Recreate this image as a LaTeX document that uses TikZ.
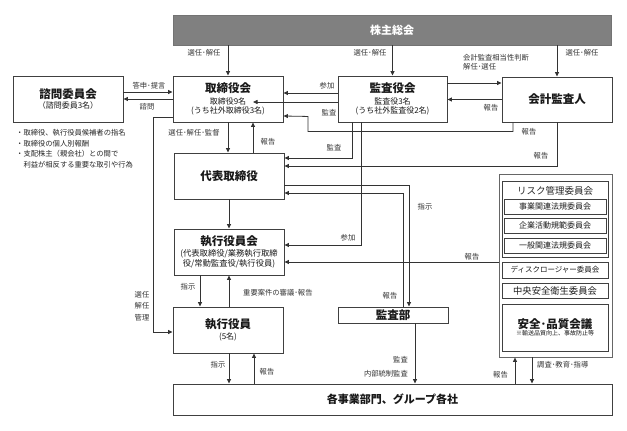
\documentclass[tikz,border=0pt]{standalone}
\usepackage{fontspec}
\setmainfont{Noto Sans CJK JP}
\usetikzlibrary{arrows.meta,calc}
\newcommand\mytitle{\fontsize{11.5}{14}\selectfont\bfseries}
\newcommand\mysub{\fontsize{8}{9.5}\selectfont}
\begin{document}
\begin{tikzpicture}[x=1pt,y=-1pt,
  box/.style={draw=black!75, line width=0.9pt, fill=white, inner sep=0pt, align=center, text=black!90, font=\mysub},
  gbox/.style={draw=black!60, line width=0.9pt, fill=white, inner sep=0pt},
  lbl/.style={font=\fontsize{7.3}{8.5}\selectfont, text=black!80, inner sep=0pt, align=center},
  arr/.style={draw=black!80, line width=0.8pt, -{Triangle[length=4.5pt,width=4pt]}},
]
\useasboundingbox[fill=white] (0,0) rectangle (627,431);

% ---- boxes
\node[draw=black!55, fill=black!50, minimum width=438pt, minimum height=30pt, inner sep=0pt,
      text=white, font=\fontsize{11}{13}\selectfont\bfseries] (sh) at (392,30) {株主総会};
\node[box, minimum width=110pt, minimum height=46pt] (shimon) at (68,99)
  {{\mytitle 諮問委員会}\\[1pt]（諮問委員3名）};
\node[box, minimum width=110pt, minimum height=46pt] (tori) at (228,99)
  {{\mytitle 取締役会}\\[2.5pt]取締役9名\\(うち社外取締役3名)};
\node[box, minimum width=109pt, minimum height=46pt] (kansa) at (392.5,99)
  {{\mytitle 監査役会}\\[2.5pt]監査役3名\\(うち社外監査役2名)};
\node[box, minimum width=110pt, minimum height=45pt] (kaikei) at (557,99.5)
  {{\mytitle 会計監査人}};
\node[box, minimum width=110pt, minimum height=46pt] (daihyo) at (229,176)
  {{\mytitle 代表取締役}};
\node[box, minimum width=110pt, minimum height=46pt, font=\fontsize{8.3}{10}\selectfont] (shikkokai) at (229,252)
  {{\mytitle 執行役員会}\\[1.5pt](代表取締役/業務執行取締\\役/常勤監査役/執行役員)};
\node[box, minimum width=110pt, minimum height=46pt] (shikko) at (228,330)
  {{\mytitle 執行役員}\\[1.5pt](5名)};
\node[box, minimum width=110pt, minimum height=16pt] (kansabu) at (393,315)
  {{\mytitle 監査部}};
\node[box, minimum width=439pt, minimum height=31pt] (jigyo) at (392.5,399.5)
  {{\fontsize{11}{13}\selectfont\bfseries 各事業部門、グループ各社}};

% ---- committee group
\node[gbox, minimum width=113pt, minimum height=183pt] (grp) at (555.5,265.5) {};
\node[box, minimum width=106pt, minimum height=76pt] (risk) at (555,219) {};
\node[inner sep=0pt, font=\fontsize{9.5}{11}\selectfont, text=black!85] (risktitle) at (555,190.5) {リスク管理委員会};
\node[box, minimum width=102pt, minimum height=15pt, font=\fontsize{8}{9}\selectfont] (r1) at (555,206.5) {事業関連法規委員会};
\node[box, minimum width=102pt, minimum height=15pt, font=\fontsize{8}{9}\selectfont] (r2) at (555,225.5) {企業活動規範委員会};
\node[box, minimum width=102pt, minimum height=15pt, font=\fontsize{8}{9}\selectfont] (r3) at (555,245.5) {一般関連法規委員会};
\node[box, minimum width=106pt, minimum height=16pt, font=\fontsize{7.5}{9}\selectfont] (disc) at (555,270) {ディスクロージャー委員会};
\node[box, minimum width=106pt, minimum height=15pt, font=\fontsize{9.3}{11}\selectfont] (chuo) at (555,290.5) {中央安全衛生委員会};
\node[box, minimum width=106pt, minimum height=47pt, font=\fontsize{6}{7}\selectfont] (anzen) at (555,327.5)
  {{\fontsize{11.5}{13}\selectfont\bfseries 安全･品質会議}\\[0pt]※輸送品質向上、事故防止等};

% ---- bullet list
\node[anchor=north west, inner sep=0pt, align=left, font=\fontsize{7.3}{10.7}\selectfont, text=black!85] (notes) at (16,129)
  {・取締役、執行役員候補者の指名\\・取締役の個人別報酬\\・支配株主（親会社）との間で\\　利益が相反する重要な取引や行為};

% ---- connectors
\draw[arr] (tori.north |- sh.south) -- (tori.north);
\draw[arr] (kansa.north |- sh.south) -- (kansa.north);
\draw[arr] (kaikei.north |- sh.south) -- (kaikei.north);

\draw[arr] ([yshift=7pt]shimon.east) -- ([yshift=7pt]tori.west);
\draw[arr] (tori.west) -- (shimon.east);

\draw[arr] ([yshift=6pt]kansa.west) -- ([yshift=6pt]tori.east);
\draw[arr] ([yshift=-3pt]kansa.west) -- ([xshift=25pt,yshift=-3pt]tori.center);
\draw[arr] ([xshift=-44pt]kaikei.south) -- ++(0,9) -- ++(-205,0) -- ++(0,-15) -- ([yshift=-17pt]tori.east);

\draw[arr] ([yshift=16pt]kansa.east) -- ([yshift=16.5pt]kaikei.west);
\draw[arr] (kaikei.west) -- (kaikei.west -| kansa.east);

\draw[arr] (kaikei.south) |- ([yshift=10pt]daihyo.east);
\draw[arr] ([xshift=-40.5pt]kansa.south) |- ([yshift=18pt]daihyo.east);
\draw[arr] ([xshift=-31.5pt]kansa.south) |- ([yshift=7pt]shikkokai.east);
\draw[arr] ([yshift=-9pt]daihyo.east) -| ([xshift=16pt]kansabu.north);
\draw[arr] ([xshift=10pt]kansabu.north) |- ([yshift=-17pt]daihyo.east);
\draw[arr] ([yshift=-10pt]shikkokai.east -| grp.west) -- ([yshift=-10pt]shikkokai.east);

\draw[arr] (tori.south) -- (tori.south |- daihyo.north);
\draw[arr] ([xshift=25pt]tori.south |- daihyo.north) -- ([xshift=25pt]tori.south);
\draw[arr] (daihyo.south) -- (shikkokai.north);
\draw[arr] ([xshift=-29pt]shikkokai.south) -- ([xshift=-29pt]shikkokai.south |- shikko.north);
\draw[arr] ([xshift=1pt]shikko.north) -- ([xshift=1pt]shikko.north |- shikkokai.south);
\draw[arr] ([yshift=-18pt]tori.west) -- ++(-19,0) |- ([yshift=-2pt]shikko.west);

\draw[arr] ([xshift=1pt]shikko.south) -- ([xshift=1pt]shikko.south |- jigyo.north);
\draw[arr] ([xshift=26pt]shikko.south |- jigyo.north) -- ([xshift=26pt]shikko.south);
\draw[arr] ([xshift=22pt]kansabu.south) -- ([xshift=22pt]kansabu.south |- jigyo.north);
\draw[arr] ([xshift=-40.5pt]grp.south |- jigyo.north) -- ([xshift=-40.5pt]grp.south);
\draw[arr] ([xshift=-23.5pt]grp.south) -- ([xshift=-23.5pt]grp.south |- jigyo.north);

% ---- labels
\node[lbl] (l1) at (204,53) {選任･解任};
\node[lbl] (l2) at (370,53) {選任･解任};
\node[lbl] (l3) at (582,53) {選任･解任};
\node[lbl, anchor=west, align=left] (l4) at (463,62) {会計監査相当性判断\\解任･選任};
\node[lbl] (l5) at (149,86) {答申･提言};
\node[lbl] (l6) at (147,107) {諮問};
\node[lbl] (l7) at (327,86) {参加};
\node[lbl] (l8) at (329,113) {監査};
\node[lbl] (l9) at (491,108) {報告};
\node[lbl] (l10) at (529,132) {報告};
\node[lbl] (l11) at (541,156) {報告};
\node[lbl] (l12) at (334,148) {監査};
\node[lbl] (l13) at (194,133) {選任･解任･監督};
\node[lbl] (l14) at (268,142) {報告};
\node[lbl] (l15) at (425,207) {指示};
\node[lbl] (l16) at (348,238) {参加};
\node[lbl] (l17) at (472,257) {報告};
\node[lbl] (l18) at (188,287) {指示};
\node[lbl, anchor=west] (l19) at (243,293) {重要案件の審議･報告};
\node[lbl] (l20) at (390,296) {報告};
\node[lbl, font=\fontsize{7.3}{11.5}\selectfont] (l21) at (142,306) {選任\\解任\\管理};
\node[lbl] (l22) at (218,365) {指示};
\node[lbl] (l23) at (267,372) {報告};
\node[lbl, anchor=east] (l24) at (408,360) {監査};
\node[lbl, anchor=east] (l25) at (408,374) {内部統制監査};
\node[lbl, anchor=east] (l26) at (508,375) {報告};
\node[lbl, anchor=west] (l27) at (537,365) {調査･教育･指導};
\end{tikzpicture}
\end{document}
